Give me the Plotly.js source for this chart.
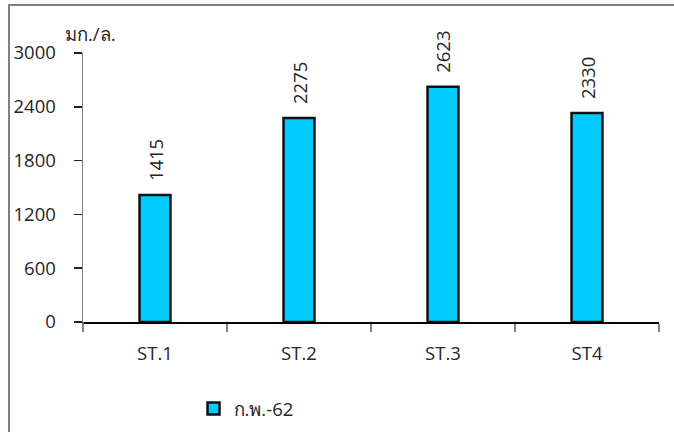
<!DOCTYPE html>
<html><head><meta charset="utf-8">
<script src="https://cdn.plot.ly/plotly-3.0.1.min.js"></script>
<style>
html,body{margin:0;padding:0;overflow:hidden;background:#fff;}
#wrap{position:relative;width:674px;height:432px;}
#chart{position:absolute;left:0;top:0;width:674px;height:432px;}
#frame{position:absolute;left:8px;top:4px;width:700px;height:500px;border-left:2px solid #808080;border-top:2px solid #808080;pointer-events:none;}
</style></head>
<body><div id="wrap"><div id="chart"></div><div id="frame"></div></div>
<script>
const categories = ["ST.1", "ST.2", "ST.3", "ST4"];
const values = [1415, 2275, 2623, 2330];
const seriesName = "ก.พ.-62";
const yTicks = [0, 600, 1200, 1800, 2400, 3000];
const unitLabel = "มก./ล.";

const fontFam = "'Open Sans', 'Noto Sans', 'DejaVu Sans', sans-serif";
const fs = 18.5;
const fc = "#262626";

const trace = {
  type: "bar",
  x: categories,
  y: values,
  name: seriesName,
  width: 0.215,
  marker: {color: "#00CCFF", line: {color: "#111111", width: 2.5}},
  showlegend: true
};

const annotations = categories.map((c, i) => ({
  x: c, y: values[i], xref: "x", yref: "y",
  text: String(values[i]), textangle: -90,
  showarrow: false, yanchor: "bottom", yshift: 12,
  font: {family: fontFam, size: fs, color: fc}
}));
annotations.push({
  xref: "paper", yref: "paper", x: -0.035, y: 1.02,
  xanchor: "left", yanchor: "bottom", showarrow: false,
  text: unitLabel, font: {family: fontFam, size: fs, color: fc}
});

const layout = {
  width: 674, height: 432,
  margin: {l: 83, r: 15, t: 53, b: 110, autoexpand: false},
  paper_bgcolor: "rgba(0,0,0,0)", plot_bgcolor: "rgba(0,0,0,0)",
  font: {family: fontFam, size: fs, color: fc},
  bargap: 0,
  xaxis: {
    type: "category", tickson: "boundaries", ticks: "outside", ticklen: 8,
    tickcolor: "#808080", tickwidth: 1.5, ticklabelstandoff: 14,
    showline: true, linecolor: "#000", linewidth: 1.5,
    showgrid: false, zeroline: false, fixedrange: true, automargin: false,
    tickfont: {family: fontFam, size: fs, color: fc}
  },
  yaxis: {
    range: [0, 3000], tickvals: yTicks, ticktext: yTicks.map(String),
    ticks: "outside", ticklen: 8, tickcolor: "#222", tickwidth: 1.5,
    ticklabelstandoff: 14, automargin: false,
    showline: true, linecolor: "#808080", linewidth: 1.5,
    showgrid: false, zeroline: false, fixedrange: true,
    tickfont: {family: fontFam, size: fs, color: fc}
  },
  shapes: [{type: "line", xref: "paper", yref: "paper", x0: 0, x1: 0, y0: 0, y1: -0.03,
            line: {color: "#808080", width: 1.5}}],
  legend: {orientation: "h", x: 0.283, xanchor: "center", y: -0.323, yanchor: "middle",
           font: {family: fontFam, size: fs, color: fc}, itemwidth: 30},
  annotations: annotations
};

Plotly.newPlot("chart", [trace], layout, {displayModeBar: false, staticPlot: true});
</script></body></html>
